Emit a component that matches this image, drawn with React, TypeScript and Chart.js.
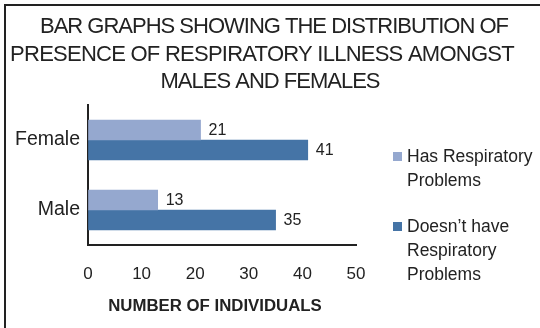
import React, { useEffect, useRef } from "react";
import { Chart, registerables } from "chart.js";

Chart.register(...registerables);

// Data
const categories = ["Female", "Male"];
const hasRespiratory = [21, 13];
const noRespiratory = [41, 35];
const seriesLabelLines = [
  ["Has Respiratory", "Problems"],
  ["Doesn\u2019t have", "Respiratory", "Problems"],
];
const titleLines = [
  "BAR GRAPHS SHOWING THE DISTRIBUTION OF",
  "PRESENCE OF RESPIRATORY ILLNESS AMONGST",
  "MALES AND FEMALES",
];
const xAxisTitle = "NUMBER OF INDIVIDUALS";
const xMin = 0;
const xMax = 50;
const xStep = 10;

const FONT = "'Liberation Sans', Arial, Helvetica, sans-serif";
const INK = "#222222";
const COLORS = ["#95A8CF", "#4574A6"];

// Frame, heading, axis caption, legend and value labels
const decorations = {
  id: "decorations",
  afterDraw(chart: any) {
    const ctx = chart.ctx as CanvasRenderingContext2D;
    ctx.save();

    // frame (top and left edges)
    ctx.fillStyle = INK;
    ctx.fillRect(4, 4, 536, 2);
    ctx.fillRect(4, 4, 2, 324);

    // heading
    ctx.fillStyle = INK;
    ctx.textAlign = "center";
    ctx.textBaseline = "middle";
    ctx.font = `22px ${FONT}`;
    const titleY = [27, 54.5, 82];
    const titleX = [274, 262, 270];
    const titleSpacing = ["-1px", "-0.75px", "-1px"];
    titleLines.forEach((line, i) => {
      (ctx as any).letterSpacing = titleSpacing[i];
      ctx.fillText(line, titleX[i], titleY[i]);
    });
    (ctx as any).letterSpacing = "0px";

    // axis caption
    ctx.font = `bold 16.8px ${FONT}`;
    ctx.fillText(xAxisTitle, 215, 306);

    // value labels
    ctx.font = `16px ${FONT}`;
    ctx.textAlign = "left";
    chart.data.datasets.forEach((ds: any, di: number) => {
      const meta = chart.getDatasetMeta(di);
      meta.data.forEach((bar: any, j: number) => {
        ctx.fillText(String(ds.data[j]), bar.x + 8, bar.y + 1);
      });
    });

    // legend
    const legendX = 393;
    const textX = 407;
    const lineGap = 24;
    const firstLineY = [157, 227];
    ctx.font = `17.5px ${FONT}`;
    chart.data.datasets.forEach((ds: any, di: number) => {
      const y0 = firstLineY[di];
      ctx.fillStyle = ds.backgroundColor;
      ctx.fillRect(legendX, y0 - 5, 9, 9);
      ctx.fillStyle = INK;
      seriesLabelLines[di].forEach((line, k) => {
        ctx.fillText(line, textX, y0 + k * lineGap);
      });
    });

    ctx.restore();
  },
};

export default function App() {
  const canvasRef = useRef<HTMLCanvasElement | null>(null);

  useEffect(() => {
    document.body.style.margin = "0";
    const canvas = canvasRef.current;
    if (!canvas) return;

    const chart = new Chart(canvas, {
      type: "bar",
      data: {
        labels: categories,
        datasets: [
          {
            label: seriesLabelLines[0].join(" "),
            data: hasRespiratory,
            backgroundColor: COLORS[0],
            barThickness: 20,
          },
          {
            label: seriesLabelLines[1].join(" "),
            data: noRespiratory,
            backgroundColor: COLORS[1],
            barThickness: 20,
          },
        ],
      },
      options: {
        indexAxis: "y",
        responsive: false,
        animation: false,
        layout: { padding: { top: 105, right: 184, left: 0, bottom: 0 } },
        plugins: {
          legend: { display: false },
          title: { display: false },
          tooltip: { enabled: false },
        },
        scales: {
          x: {
            min: xMin,
            max: xMax,
            ticks: {
              stepSize: xStep,
              color: INK,
              padding: 19,
              maxRotation: 0,
              font: { family: FONT, size: 17 },
            },
            grid: { drawOnChartArea: false, drawTicks: false },
            border: { display: true, color: INK, width: 2 },
            afterFit: (scale: any) => {
              scale.height = 83;
            },
          },
          y: {
            ticks: {
              color: INK,
              padding: 8,
              font: { family: FONT, size: 19.5 },
            },
            grid: { drawOnChartArea: false, drawTicks: false },
            border: { display: true, color: INK, width: 2 },
            afterFit: (scale: any) => {
              scale.width = 88;
            },
          },
        },
      },
      plugins: [decorations],
    });

    return () => chart.destroy();
  }, []);

  return (
    <div style={{ width: 540, height: 328, background: "#fff" }}>
      <canvas ref={canvasRef} width={540} height={328} style={{ display: "block" }} />
    </div>
  );
}
